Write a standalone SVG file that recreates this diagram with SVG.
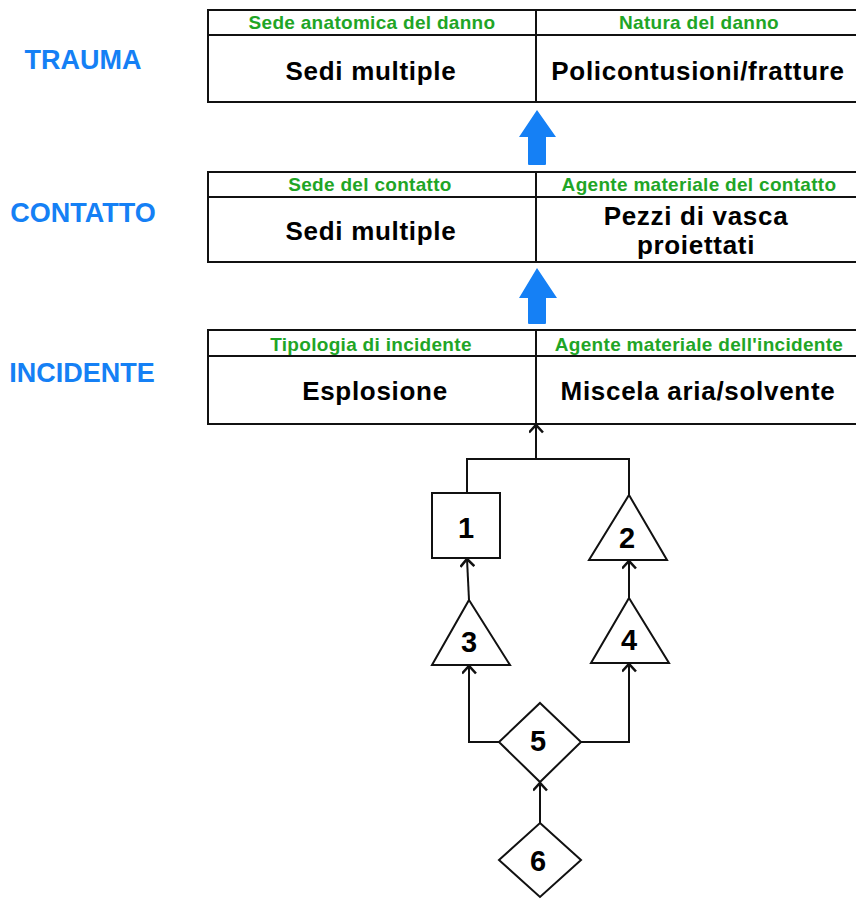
<svg xmlns="http://www.w3.org/2000/svg" width="856" height="899" viewBox="0 0 856 899">
<style>
.bg{fill:#ffffff}
.tbl{fill:#ffffff;stroke:#111;stroke-width:2}
.ln{stroke:#111;stroke-width:2;fill:none}
.lbl{font-family:"Liberation Sans",Arial,sans-serif;font-weight:bold;font-size:27px;fill:#1580f5;text-anchor:middle}
.hdr{font-family:"Liberation Sans",Arial,sans-serif;font-weight:bold;font-size:19px;fill:#1fa526;text-anchor:middle;letter-spacing:0.3px}
.val{font-family:"Liberation Sans",Arial,sans-serif;font-weight:bold;font-size:26px;fill:#000;text-anchor:middle;letter-spacing:0.7px}
.shape{fill:#ffffff;stroke:#111;stroke-width:2}
.num{font-family:"Liberation Sans",Arial,sans-serif;font-weight:bold;font-size:29px;fill:#000;text-anchor:middle}
.blue{fill:#1580f5}
.conn{stroke:#111;stroke-width:2;fill:none;marker-end:url(#arr)}
</style>
<defs>
<marker id="arr" viewBox="0 0 14 14" refX="12" refY="7" markerWidth="15" markerHeight="15" markerUnits="userSpaceOnUse" orient="auto">
<path d="M5,0.5 L12,7 L5,13.5" fill="none" stroke="#111" stroke-width="2.4"/>
</marker>
</defs>
<rect class="bg" x="0" y="0" width="856" height="899"/>

<g id="label-trauma"><text class="lbl" x="83" y="69">TRAUMA</text></g>
<g id="label-contatto"><text class="lbl" x="83" y="222">CONTATTO</text></g>
<g id="label-incidente"><text class="lbl" x="82" y="382">INCIDENTE</text></g>

<g id="table-trauma">
<rect class="tbl" x="208" y="10" width="652" height="92"/>
<line class="ln" x1="208" y1="35" x2="860" y2="35"/>
<line class="ln" x1="536" y1="10" x2="536" y2="102"/>
<text class="hdr" x="372" y="29">Sede anatomica del danno</text>
<text class="hdr" x="699" y="29">Natura del danno</text>
<text class="val" x="371" y="80">Sedi multiple</text>
<text class="val" x="698" y="80">Policontusioni/fratture</text>
</g>

<g id="table-contatto">
<rect class="tbl" x="208" y="172" width="652" height="90"/>
<line class="ln" x1="208" y1="197" x2="860" y2="197"/>
<line class="ln" x1="536" y1="172" x2="536" y2="262"/>
<text class="hdr" x="370" y="191">Sede del contatto</text>
<text class="hdr" x="699" y="191">Agente materiale del contatto</text>
<text class="val" x="371" y="240">Sedi multiple</text>
<text class="val" x="696" y="225">Pezzi di vasca</text>
<text class="val" x="696" y="254">proiettati</text>
</g>

<g id="table-incidente">
<rect class="tbl" x="208" y="330" width="652" height="94"/>
<line class="ln" x1="208" y1="356" x2="860" y2="356"/>
<line class="ln" x1="536" y1="330" x2="536" y2="424"/>
<text class="hdr" x="371" y="351">Tipologia di incidente</text>
<text class="hdr" x="699" y="351">Agente materiale dell'incidente</text>
<text class="val" x="375" y="400">Esplosione</text>
<text class="val" x="698" y="400">Miscela aria/solvente</text>
</g>

<g id="blue-arrow-1"><path class="blue" d="M537,110 L556,137 L546,137 L546,164 Q546,165 545,165 L529,165 Q528,165 528,164 L528,137 L519,137 Z"/></g>
<g id="blue-arrow-2"><path class="blue" d="M537,268 L557,298 L546,298 L546,323 Q546,324 545,324 L529,324 Q528,324 528,323 L528,298 L519,298 Z"/></g>

<g id="connectors">
<polyline class="ln" points="467,493 467,459 629,459 629,495"/>
<line class="conn" x1="536" y1="459" x2="536" y2="425"/>
<line class="conn" x1="469" y1="600" x2="467" y2="559"/>
<line class="conn" x1="629" y1="598" x2="629" y2="561"/>
<polyline class="conn" points="499,742 469,742 469,666"/>
<polyline class="conn" points="581,742 629,742 629,664"/>
<line class="conn" x1="540" y1="823" x2="540" y2="783"/>
</g>

<g id="node-1"><rect class="shape" x="432" y="493" width="68" height="65"/><text class="num" x="466" y="538">1</text></g>
<g id="node-2"><polygon class="shape" points="629,495 667,560 589,560"/><text class="num" x="627" y="548">2</text></g>
<g id="node-3"><polygon class="shape" points="469,600 510,665 432,665"/><text class="num" x="469" y="652">3</text></g>
<g id="node-4"><polygon class="shape" points="629,598 669,663 591,663"/><text class="num" x="629" y="650">4</text></g>
<g id="node-5"><polygon class="shape" points="540,703 581,742 540,782 499,742"/><text class="num" x="538" y="751">5</text></g>
<g id="node-6"><polygon class="shape" points="540,823 581,860 540,897 499,860"/><text class="num" x="538" y="871">6</text></g>
</svg>
